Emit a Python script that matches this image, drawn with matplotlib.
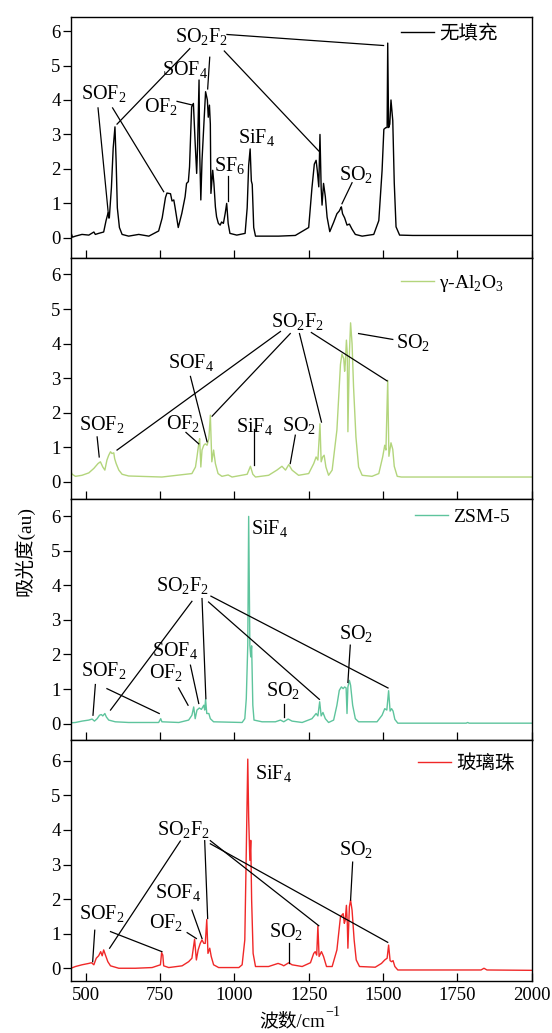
import matplotlib
matplotlib.use('Agg')
import matplotlib.pyplot as plt

plt.rcParams['font.family'] = ['Liberation Serif', 'Noto Sans CJK SC']
plt.rcParams['mathtext.fontset'] = 'custom'
plt.rcParams['mathtext.rm'] = 'Liberation Serif'
plt.rcParams['axes.unicode_minus'] = True

# FTIR absorbance spectra, one list pair per packing material
wn_blank = [450, 455, 465, 487, 510, 527, 532, 543, 560, 568, 575, 579, 586, 592, 598, 602, 606, 613, 622, 644,
            678, 712, 745, 757, 768, 773, 785, 790, 796, 800, 811, 823, 834, 839, 845, 849, 856, 862, 868, 873,
            876, 881, 883, 887, 891, 898, 903, 909, 912, 916, 919, 921, 927, 931, 936, 940, 946, 952, 957, 963,
            969, 974, 979, 985, 1008, 1036, 1043, 1048, 1053, 1057, 1060, 1065, 1071, 1149, 1205, 1250, 1261,
            1269, 1275, 1279, 1284, 1288, 1292, 1295, 1300, 1306, 1312, 1321, 1334, 1345, 1353, 1357, 1360, 1364,
            1371, 1379, 1387, 1396, 1407, 1430, 1469, 1486, 1497, 1503, 1510, 1514, 1516, 1519, 1523, 1527, 1533,
            1538, 1544, 1556, 1600, 1800, 2000]
abs_blank = [0.15, 0.02, 0.05, 0.1, 0.08, 0.17, 0.1, 0.13, 0.17, 0.5, 0.73, 0.58, 1.45, 2.6, 3.22, 2.2, 0.87, 0.3,
             0.1, 0.05, 0.1, 0.05, 0.2, 0.58, 1.17, 1.3, 1.28, 1.07, 1.1, 0.9, 0.3, 0.71, 1.19, 1.58, 1.63, 2.06,
             3.8, 3.9, 2.74, 1.87, 2.64, 4.58, 2.55, 1.1, 2.25, 3.42, 4.24, 4.0, 3.5, 3.85, 3.3, 1.29, 1.96, 1.58,
             0.9, 0.61, 0.42, 0.37, 0.46, 0.42, 0.71, 1.0, 0.42, 0.13, 0.08, 0.13, 0.87, 2.1, 2.58, 1.65, 1.55,
             0.3, 0.05, 0.05, 0.07, 0.3, 1.45, 2.14, 2.25, 1.95, 1.48, 3.0, 1.45, 0.95, 1.58, 1.2, 0.6, 0.18, 0.45,
             0.7, 0.78, 0.85, 0.9, 0.7, 0.58, 0.37, 0.4, 0.25, 0.1, 0.05, 0.1, 0.5, 1.95, 3.15, 3.2, 3.2, 5.65, 3.2,
             3.3, 4.0, 3.4, 1.6, 0.32, 0.08, 0.07, 0.07, 0.07]

wn_al2o3 = [450, 454, 465, 487, 510, 527, 541, 549, 557, 564, 571, 577, 583, 588, 594, 597, 602, 611, 622, 644,
            756, 857, 869, 874, 880, 883, 887, 891, 897, 902, 908, 914, 919, 924, 930, 936, 945, 958, 979, 992,
            1043, 1054, 1062, 1071, 1115, 1143, 1160, 1172, 1183, 1194, 1216, 1250, 1267, 1275, 1281, 1288, 1292,
            1297, 1302, 1308, 1317, 1329, 1345, 1357, 1362, 1368, 1371, 1373, 1377, 1380, 1382, 1387, 1391, 1396,
            1401, 1409, 1418, 1430, 1463, 1486, 1499, 1506, 1510, 1516, 1520, 1527, 1533, 1538, 1548, 1562, 1800,
            2000]
abs_al2o3 = [0.29, 0.22, 0.16, 0.19, 0.26, 0.39, 0.53, 0.58, 0.43, 0.34, 0.63, 0.77, 0.87, 0.82, 0.84, 0.67, 0.53,
             0.34, 0.22, 0.17, 0.14, 0.24, 0.43, 0.72, 1.1, 1.25, 0.43, 0.92, 1.06, 1.1, 1.06, 1.25, 1.93, 0.58,
             0.92, 0.53, 0.24, 0.16, 0.2, 0.14, 0.22, 0.45, 0.22, 0.14, 0.19, 0.34, 0.45, 0.34, 0.5, 0.34, 0.19,
             0.24, 0.53, 0.72, 0.63, 1.68, 0.58, 0.72, 0.77, 0.43, 0.19, 0.34, 1.5, 3.4, 3.7, 3.56, 3.2, 3.4, 4.1,
             3.7, 1.45, 3.7, 4.6, 4.0, 2.75, 1.3, 0.43, 0.19, 0.16, 0.24, 0.72, 1.06, 0.92, 2.94, 0.74, 1.13, 0.94,
             0.45, 0.16, 0.14, 0.14, 0.14]

wn_zsm5 = [450, 465, 487, 510, 521, 529, 538, 546, 552, 557, 564, 569, 577, 599, 644, 745, 752, 756, 813, 846,
           857, 863, 868, 874, 882, 889, 897, 900, 903, 907, 914, 919, 930, 1026, 1035, 1040, 1045, 1048, 1052,
           1055, 1058, 1062, 1066, 1093, 1138, 1155, 1166, 1181, 1194, 1228, 1261, 1275, 1281, 1287, 1292, 1298,
           1306, 1317, 1334, 1345, 1353, 1360, 1366, 1371, 1376, 1379, 1382, 1387, 1391, 1398, 1407, 1418, 1480,
           1497, 1506, 1513, 1519, 1524, 1529, 1534, 1540, 1550, 1780, 1785, 1790, 2000]
abs_zsm5 = [0.02, 0.03, 0.07, 0.1, 0.13, 0.07, 0.14, 0.24, 0.26, 0.22, 0.29, 0.19, 0.1, 0.05, 0.03, 0.03, 0.14,
            0.05, 0.03, 0.1, 0.24, 0.48, 0.14, 0.39, 0.45, 0.41, 0.53, 0.39, 0.7, 0.29, 0.29, 0.14, 0.05, 0.03,
            0.14, 0.72, 2.27, 6.0, 2.27, 1.93, 2.25, 0.53, 0.1, 0.05, 0.05, 0.1, 0.05, 0.13, 0.07, 0.03, 0.14,
            0.29, 0.22, 0.63, 0.22, 0.32, 0.14, 0.03, 0.1, 0.53, 0.96, 1.06, 1.01, 1.06, 1.03, 0.29, 1.06, 1.25,
            1.11, 0.53, 0.14, 0.05, 0.05, 0.24, 0.43, 0.39, 0.95, 0.36, 0.43, 0.36, 0.12, 0.01, 0.01, 0.03, 0.01,
            0.01]

wn_beads = [450, 465, 487, 510, 519, 527, 535, 543, 550, 555, 560, 566, 574, 583, 611, 667, 723, 751, 755, 759,
            762, 779, 824, 846, 857, 866, 872, 878, 885, 891, 897, 902, 907, 911, 917, 922, 930, 947, 1015, 1026,
            1035, 1040, 1045, 1048, 1052, 1055, 1058, 1063, 1071, 1115, 1147, 1160, 1166, 1183, 1194, 1228, 1256,
            1267, 1272, 1277, 1281, 1285, 1293, 1300, 1310, 1329, 1345, 1357, 1366, 1370, 1373, 1377, 1380, 1382,
            1387, 1391, 1396, 1403, 1410, 1421, 1474, 1495, 1506, 1514, 1519, 1524, 1529, 1534, 1540, 1550, 1830,
            1840, 1850, 2000]
abs_beads = [0.0, 0.05, 0.1, 0.14, 0.16, 0.1, 0.29, 0.36, 0.48, 0.36, 0.53, 0.38, 0.19, 0.07, 0.0, 0.0, 0.02,
             0.1, 0.45, 0.38, 0.07, 0.02, 0.07, 0.19, 0.29, 0.84, 0.24, 0.53, 0.72, 0.82, 0.72, 0.72, 1.41, 0.43,
             0.58, 0.34, 0.1, 0.02, 0.02, 0.1, 0.82, 3.4, 6.05, 4.37, 3.12, 3.7, 1.97, 0.43, 0.05, 0.05, 0.14, 0.1,
             0.07, 0.16, 0.1, 0.05, 0.16, 0.43, 0.48, 0.38, 1.23, 0.34, 0.48, 0.34, 0.05, 0.05, 0.53, 1.49, 1.58,
             1.3, 1.39, 1.82, 1.3, 0.58, 1.78, 1.97, 1.68, 0.82, 0.24, 0.05, 0.03, 0.14, 0.24, 0.29, 0.67, 0.22,
             0.19, 0.22, 0.05, -0.05, -0.05, 0.0, -0.05, -0.06]

sample_names = ['无填充', r'γ-Al$_\mathregular{2}$O$_\mathregular{3}$', 'ZSM-5', '玻璃珠']
line_colors = ['black', '#b3d57c', '#5ec49d', '#f02828']

SO2F2 = r'SO$_\mathregular{2}$F$_\mathregular{2}$'
SOF2 = r'SOF$_\mathregular{2}$'
SOF4 = r'SOF$_\mathregular{4}$'
OF2 = r'OF$_\mathregular{2}$'
SF6 = r'SF$_\mathregular{6}$'
SiF4 = r'SiF$_\mathregular{4}$'
SO2 = r'SO$_\mathregular{2}$'

# (label, x, y, horizontal alignment) in data units
labels = [
    [(SOF2, 560, 4.17, 'center'), (SOF4, 833, 4.87, 'center'), (OF2, 753, 3.8, 'center'),
     (SO2F2, 889, 5.83, 'center'), (SF6, 983, 2.07, 'center'), (SiF4, 1073, 2.89, 'center'),
     (SO2, 1409, 1.8, 'center')],
    [(SO2F2, 1214, 4.62, 'center'), (SO2, 1602, 4.0, 'center'), (SOF4, 855, 3.42, 'center'),
     (SOF2, 554, 1.64, 'center'), (OF2, 826, 1.65, 'center'), (SiF4, 1069, 1.59, 'center'),
     (SO2, 1218, 1.6, 'center')],
    [(SiF4, 1057, 5.62, 'left'), (SO2F2, 826, 3.98, 'center'), (SO2, 1409, 2.57, 'center'),
     (SOF4, 801, 2.09, 'center'), (OF2, 770, 1.45, 'center'), (SOF2, 559, 1.52, 'center'),
     (SO2, 1164, 0.92, 'center')],
    [(SiF4, 1070, 5.6, 'left'), (SO2F2, 829, 4.0, 'center'), (SO2, 1409, 3.4, 'center'),
     (SOF4, 809, 2.18, 'center'), (OF2, 769, 1.3, 'center'), (SOF2, 554, 1.56, 'center'),
     (SO2, 1174, 1.03, 'center')],
]

# leader lines from labels to the assigned bands: (x0, y0, x1, y1)
leaders = [
    [(541, 3.77, 577, 0.58), (590, 3.77, 762, 1.34), (807, 3.96, 860, 3.85), (850, 5.49, 605, 3.3),
     (917, 5.24, 910, 4.32), (966, 5.42, 1284, 2.52), (975, 5.9, 1502, 5.58), (977.5, 1.8, 977.5, 1.07),
     (1396, 1.6, 1362, 0.99)],
    [(1155, 4.35, 605, 0.92), (1188, 4.29, 925, 1.9), (1219, 4.29, 1293, 1.73), (1259, 4.32, 1514, 2.92),
     (1533, 4.12, 1418, 4.29), (852, 3.05, 908, 1.16), (538, 1.3, 545, 0.72), (837, 1.43, 880, 1.1),
     (1065, 1.54, 1065, 0.48), (1205, 1.35, 1188, 0.53)],
    [(857, 3.54, 583, 0.39), (891, 3.62, 904, 0.72), (913, 3.52, 1286, 0.7), (921, 3.69, 1517, 1.03),
     (1390, 2.27, 1382, 1.19), (852, 1.69, 880, 0.58), (812, 1.03, 844, 0.53), (532, 1.13, 524, 0.24),
     (571, 1.01, 747, 0.29), (1166, 0.58, 1166, 0.19)],
    [(818, 3.68, 580, 0.58), (900, 3.69, 910, 1.44), (919, 3.69, 1284, 1.23), (919, 3.6, 1516, 0.75),
     (1398, 3.07, 1391, 1.97), (857, 1.68, 891, 0.86), (841, 1.03, 872, 0.86), (530, 1.1, 523, 0.19),
     (583, 1.06, 756, 0.48), (1183, 0.72, 1183, 0.14)],
]

spectra = [(wn_blank, abs_blank), (wn_al2o3, abs_al2o3), (wn_zsm5, abs_zsm5), (wn_beads, abs_beads)]
ylims = [(-0.59, 6.4), (-0.5, 6.47), (-0.48, 6.5), (-0.37, 6.6)]
legend_pos = [(0.717, 0.931), (0.717, 0.897), (0.747, 0.924), (0.754, 0.903)]

fig, axes = plt.subplots(4, 1, sharex=True, figsize=(5.52, 10.33), dpi=100)
fig.subplots_adjust(left=0.1286, right=0.9629, top=0.9833, bottom=0.0503, hspace=0)

for i, ax in enumerate(axes):
    wn, ab = spectra[i]
    ax.plot(wn, ab, color=line_colors[i], lw=1.0, label=sample_names[i])
    for txt, x, y, ha in labels[i]:
        ax.text(x, y, txt, ha=ha, va='center', fontsize=14.5)
    for x0, y0, x1, y1 in leaders[i]:
        ax.plot([x0, x1], [y0, y1], color='black', lw=0.9)
    ax.set_xlim(450, 2000)
    ax.set_ylim(*ylims[i])
    ax.set_yticks(range(7))
    ax.set_xticks([500, 750, 1000, 1250, 1500, 1750, 2000])
    ax.tick_params(axis='y', direction='out', length=5.5, width=0.9, labelsize=13.5, pad=2)
    ax.tick_params(axis='x', direction='in', length=5.5, width=0.9, labelsize=13.5, pad=4)
    for sp in ax.spines.values():
        sp.set_linewidth(1.0)
    ax.legend(loc='center left', bbox_to_anchor=legend_pos[i], frameon=False, fontsize=14,
              borderaxespad=0, borderpad=0, handlelength=1.7, handletextpad=0.25)

fig.text(0.0435, 0.467, '吸光度(au)', rotation=90, ha='center', va='center', fontsize=14)

# x label: CJK part as plain text, the exponent placed right after it
xlab = fig.text(0.529, 0.0115, '波数/cm', ha='center', va='center', fontsize=13.5)
axes[-1].annotate(r'$\mathregular{-1}$', xy=(1.0, 0.62), xycoords=xlab, ha='left', va='bottom',
                  fontsize=10, annotation_clip=False)

fig.savefig('out.png', dpi=100)
